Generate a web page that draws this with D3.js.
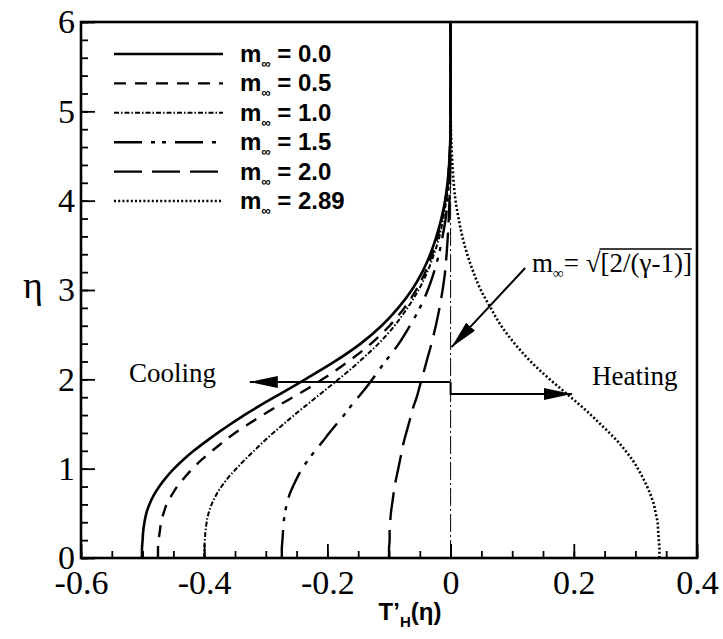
<!DOCTYPE html>
<html><head><meta charset="utf-8">
<script src="https://cdn.jsdelivr.net/npm/d3@7"></script>
<style>body{margin:0;background:#fff}</style>
</head><body>
<svg id="c" width="723" height="639"></svg>
<script>
// ---- data ----
const eta = [0,0.1,0.2,0.3,0.4,0.5,0.6,0.7,0.8,0.9,1.0,1.1,1.2,1.3,1.4,1.5,1.6,1.7,1.8,1.9,2.0,2.2,2.4,2.6,2.8,3.0,3.2,3.4,3.6,3.8,4.0,4.2,4.4,4.6,4.8,5.0,6.0];
const mach00 = [-0.501,-0.501,-0.500,-0.499,-0.497,-0.494,-0.489,-0.482,-0.473,-0.462,-0.449,-0.434,-0.417,-0.398,-0.378,-0.357,-0.335,-0.311,-0.286,-0.261,-0.236,-0.188,-0.146,-0.112,-0.085,-0.063,-0.046,-0.033,-0.023,-0.015,-0.009,-0.005,-0.0025,-0.001,0,0,0];
const mach05 = [-0.475,-0.475,-0.474,-0.472,-0.470,-0.466,-0.461,-0.453,-0.444,-0.432,-0.419,-0.404,-0.387,-0.369,-0.350,-0.328,-0.305,-0.281,-0.256,-0.231,-0.208,-0.166,-0.129,-0.099,-0.075,-0.056,-0.041,-0.030,-0.021,-0.014,-0.0085,-0.0047,-0.0023,-0.001,0,0,0];
const mach10 = [-0.400,-0.400,-0.399,-0.398,-0.396,-0.393,-0.388,-0.381,-0.372,-0.361,-0.348,-0.334,-0.319,-0.304,-0.288,-0.271,-0.254,-0.236,-0.218,-0.200,-0.182,-0.148,-0.117,-0.091,-0.070,-0.052,-0.038,-0.027,-0.018,-0.012,-0.007,-0.004,-0.002,-0.0008,0,0,0];
const mach15 = [-0.274,-0.274,-0.273,-0.272,-0.271,-0.269,-0.266,-0.262,-0.256,-0.249,-0.241,-0.231,-0.220,-0.208,-0.197,-0.185,-0.173,-0.162,-0.150,-0.138,-0.127,-0.106,-0.084,-0.066,-0.050,-0.037,-0.027,-0.019,-0.013,-0.008,-0.005,-0.003,-0.0015,-0.0005,0,0,0];
const mach20 = [-0.100,-0.100,-0.099,-0.099,-0.098,-0.097,-0.095,-0.093,-0.091,-0.088,-0.085,-0.082,-0.079,-0.076,-0.072,-0.068,-0.064,-0.060,-0.055,-0.051,-0.047,-0.039,-0.031,-0.024,-0.018,-0.013,-0.009,-0.0065,-0.0045,-0.003,-0.0018,-0.001,-0.0005,-0.0002,0,0,0];
const mach289 = [0.339,0.339,0.338,0.337,0.336,0.333,0.330,0.325,0.319,0.312,0.304,0.295,0.284,0.272,0.258,0.243,0.228,0.212,0.195,0.178,0.161,0.130,0.104,0.082,0.065,0.049,0.037,0.027,0.019,0.013,0.008,0.005,0.003,0.0015,0.0005,0,0];
const machCritical = [0,0,0,0,0,0,0,0,0,0,0,0,0,0,0,0,0,0,0,0,0,0,0,0,0,0,0,0,0,0,0,0,0,0,0,0,0];
const machLabels = ["0.0","0.5","1.0","1.5","2.0","2.89"];
const xMajorTicks = [-0.6,-0.4,-0.2,0,0.2,0.4];
const xTickLabels = ["-0.6","-0.4","-0.2","0","0.2","0.4"];
const yMajorTicks = [0,1,2,3,4,5,6];
const yTickLabels = ["0","1","2","3","4","5","6"];

// ---- layout ----
const svg = d3.select("#c");
const x = d3.scaleLinear().domain([-0.6,0.4]).range([81,697]);
const y = d3.scaleLinear().domain([0,6]).range([558,22]);
const serif = "'Liberation Serif','Times New Roman',serif";
const sans = "'Liberation Sans',Arial,sans-serif";

const styles = [
  {w:2.6, dash:null},
  {w:2.4, dash:"12,9"},
  {w:2.0, dash:"5,2,1.5,2"},
  {w:2.4, dash:"28,9,4,7,4,9"},
  {w:2.4, dash:"28,10"},
  {w:2.6, dash:"2,2.2"}
];
const series = [mach00,mach05,mach10,mach15,mach20,mach289];

// minor ticks
const xMinor = d3.range(-0.6,0.4001,0.05).map(v=>+v.toFixed(2));
const yMinor = d3.range(0,6.001,0.2).map(v=>+v.toFixed(1));
svg.append("g").attr("transform","translate(0,558)")
  .call(d3.axisBottom(x).tickValues(xMinor).tickSizeInner(-7).tickSizeOuter(0).tickFormat(""))
  .call(g=>g.select(".domain").remove())
  .selectAll("line").attr("stroke-width",1.8);
svg.append("g").attr("transform","translate(81,0)")
  .call(d3.axisLeft(y).tickValues(yMinor).tickSizeInner(-7).tickSizeOuter(0).tickFormat(""))
  .call(g=>g.select(".domain").remove())
  .selectAll("line").attr("stroke-width",1.8);
// major ticks with labels
const gx = svg.append("g").attr("transform","translate(0,558)")
  .call(d3.axisBottom(x).tickValues(xMajorTicks).tickSizeInner(-14).tickSizeOuter(0).tickPadding(12)
    .tickFormat((d,i)=>xTickLabels[i]));
gx.select(".domain").remove();
gx.selectAll("line").attr("stroke-width",1.8);
gx.selectAll("text").style("font-family",serif).style("font-size","34px").attr("fill","#000");
const gy = svg.append("g").attr("transform","translate(81,0)")
  .call(d3.axisLeft(y).tickValues(yMajorTicks).tickSizeInner(-14).tickSizeOuter(0).tickPadding(6)
    .tickFormat((d,i)=>yTickLabels[i]));
gy.select(".domain").remove();
gy.selectAll("line").attr("stroke-width",1.8);
gy.selectAll("text").style("font-family",serif).style("font-size","34px").attr("fill","#000");

// critical mach (zero) line: thin dash-dot
const line = d3.line().x(d=>x(d[0])).y(d=>y(d[1])).curve(d3.curveMonotoneY);
svg.append("path").datum(machCritical.map((v,i)=>[v,eta[i]]))
  .attr("d",line).attr("fill","none").attr("stroke","#000").attr("stroke-width",1)
  .attr("stroke-dasharray","18,3,2,3");

// curves
series.forEach((s,k)=>{
  svg.append("path").datum(s.map((v,i)=>[v,eta[i]]))
    .attr("d",line).attr("fill","none").attr("stroke","#000")
    .attr("stroke-width",styles[k].w)
    .attr("stroke-dasharray",styles[k].dash);
});

// frame
svg.append("rect").attr("x",81).attr("y",22).attr("width",616).attr("height",536)
  .attr("fill","none").attr("stroke","#000").attr("stroke-width",2.6);

// legend
const lg = svg.append("g");
machLabels.forEach((lab,k)=>{
  const yy = 54 + k*29.4;
  lg.append("line").attr("x1",114).attr("x2",223).attr("y1",yy).attr("y2",yy)
    .attr("stroke","#000").attr("stroke-width",styles[k].w).attr("stroke-dasharray",styles[k].dash);
  const t = lg.append("text").attr("x",240).attr("y",yy+8)
    .style("font-family",sans).style("font-weight","bold").style("font-size","24px");
  t.append("tspan").text("m");
  t.append("tspan").style("font-size","13px").attr("dy",6).text("∞");
  t.append("tspan").attr("dy",-6).text(" = "+lab);
});

// arrows
svg.append("defs").append("marker").attr("id","ah").attr("viewBox","0 0 10 10")
  .attr("refX",10).attr("refY",5).attr("markerUnits","userSpaceOnUse")
  .attr("markerWidth",28).attr("markerHeight",12).attr("orient","auto")
  .attr("preserveAspectRatio","none")
  .append("path").attr("d","M0,0 L10,5 L0,10 Z").attr("fill","#000");
// cooling
svg.append("line").attr("x1",x(0)).attr("y1",y(1.97)).attr("x2",x(-0.326)).attr("y2",y(1.97))
  .attr("stroke","#000").attr("stroke-width",2).attr("marker-end","url(#ah)");
// heating
svg.append("path").attr("d",`M${x(0)},${y(1.97)} L${x(0)},${y(1.836)} L${x(0.197)},${y(1.836)}`)
  .attr("fill","none").attr("stroke","#000").attr("stroke-width",2).attr("marker-end","url(#ah)");
// annotation arrow
svg.append("line").attr("x1",x(0.121)).attr("y1",y(3.246)).attr("x2",x(0.0015)).attr("y2",y(2.36))
  .attr("stroke","#000").attr("stroke-width",2).attr("marker-end","url(#ah)");

svg.append("text").attr("x",x(-0.522)).attr("y",382).style("font-family",serif).style("font-size","27px").text("Cooling");
svg.append("text").attr("x",592).attr("y",385).style("font-family",serif).style("font-size","27px").text("Heating");

// m_inf = sqrt[2/(gamma-1)]
const ann = svg.append("text").attr("x",532).attr("y",272).style("font-family",serif).style("font-size","27px");
ann.append("tspan").text("m");
ann.append("tspan").style("font-size","15px").attr("dy",6).text("∞");
ann.append("tspan").attr("dy",-6).text("= √");
ann.append("tspan").text("[2/(γ-1)]");
const bb = ann.node().getBBox();
let radStart = 603;
try { radStart = ann.node().getStartPositionOfChar(ann.text().indexOf("[")).x; } catch(e){}
svg.append("line").attr("x1",radStart-1).attr("x2",bb.x+bb.width).attr("y1",249).attr("y2",249)
  .attr("stroke","#000").attr("stroke-width",1.3);

// axis titles
svg.append("text").attr("x",33).attr("y",298).attr("text-anchor","middle")
  .style("font-family",serif).style("font-size","38px").text("η");
const xt = svg.append("text").attr("x",410).attr("y",620).attr("text-anchor","middle")
  .style("font-family",sans).style("font-weight","bold").style("font-size","24px");
xt.append("tspan").text("T’");
xt.append("tspan").style("font-size","15px").attr("dy",7).text("H");
xt.append("tspan").attr("dy",-7).text("(η)");
</script>
</body></html>
